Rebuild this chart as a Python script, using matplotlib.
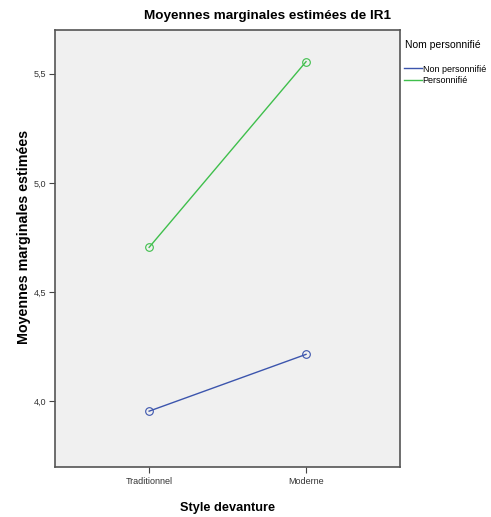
import matplotlib
matplotlib.use("Agg")
import matplotlib.pyplot as plt
from matplotlib.lines import Line2D

plt.rcParams['font.family'] = ['Liberation Sans', 'DejaVu Sans']

styles = ["Traditionnel", "Moderne"]
non_perso = [3.955, 4.215]
perso = [4.705, 5.555]
yticks = [4.0, 4.5, 5.0, 5.5]

blue = "#3c55ad"
green = "#3fbf4c"

fig = plt.figure(figsize=(4.91, 5.17), dpi=100)
ax = fig.add_axes([0.112, 0.097, 0.703, 0.845])
ax.set_facecolor("#f0f0f0")

x = list(range(len(styles)))
ax.plot(x, non_perso, color=blue, lw=1, marker='o', ms=5.5, mfc='none', mec=blue, mew=0.8)
ax.plot(x, perso, color=green, lw=1, marker='o', ms=5.5, mfc='none', mec=green, mew=0.8)

ax.set_xlim(-0.6, 1.6)
ax.set_ylim(3.70, 5.70)
ax.set_xticks(x)
ax.set_xticklabels(styles, fontsize=6.5)
ax.set_yticks(yticks)
ax.set_yticklabels([f"{v:.1f}".replace(".", ",") for v in yticks], fontsize=6.5)
ax.tick_params(length=4, width=0.8, colors="#444444", labelcolor="#333333")
ax.tick_params(axis='y', pad=2.5)

for s in ax.spines.values():
    s.set_color("#555555")
    s.set_linewidth(1.2)

# title sits right of the axes centre in the original
fig.text(268 / 491, 1 - 16 / 517, "Moyennes marginales estimées de IR1",
         fontsize=9.7, fontweight='bold', ha='center', va='center')
ax.set_xlabel("Style devanture", fontsize=9.2, fontweight='bold', labelpad=11)
ax.set_ylabel("Moyennes marginales estimées", fontsize=10.3, fontweight='bold')
ax.yaxis.set_label_coords(-0.07, 0.526)

fig.text(0.825, 0.913, "Nom personnifié", fontsize=7.5, va='center', ha='left')
handles = [Line2D([], [], color=blue, lw=1), Line2D([], [], color=green, lw=1)]
fig.legend(handles, ["Non personnifié", "Personnifié"], loc='upper left',
           bbox_to_anchor=(0.815, 0.882), frameon=False, fontsize=6.5,
           handlelength=2.0, handletextpad=0.1, labelspacing=0.25, borderaxespad=0)

fig.savefig("out.png", dpi=100)
